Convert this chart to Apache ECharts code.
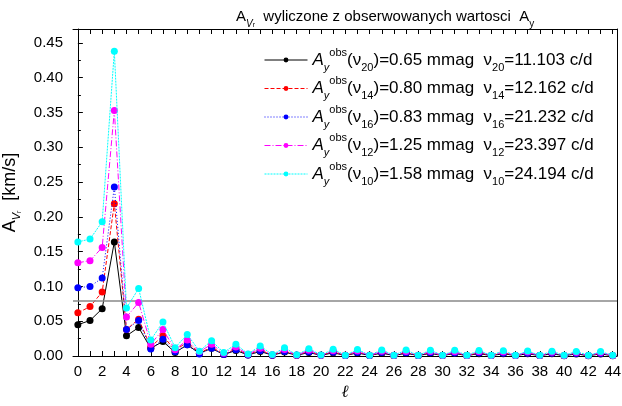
<!DOCTYPE html>
<html>
<head>
<meta charset="utf-8">
<script src="https://cdn.jsdelivr.net/npm/echarts@6/dist/echarts.min.js"></script>
<style>html,body{margin:0;padding:0;background:#fff;}#c{width:622px;height:406px;}</style>
</head>
<body>
<div id="c"></div>
<script>
// degrees l = 0..44
var xTicks = [0,1,2,3,4,5,6,7,8,9,10,11,12,13,14,15,16,17,18,19,20,21,22,23,24,25,26,27,28,29,30,31,32,33,34,35,36,37,38,39,40,41,42,43,44];
var xTickLabels = [0,2,4,6,8,10,12,14,16,18,20,22,24,26,28,30,32,34,36,38,40,42,44];
var yTickLabels = [0,0.05,0.10,0.15,0.20,0.25,0.30,0.35,0.40,0.45];
var thresholdLevel = 0.08;

var modeIdx = ['20','14','16','12','10'];
var ampObs = ['0.65','0.80','0.83','1.25','1.58'];
var freqs = ['11.103','12.162','21.232','23.397','24.194'];

var s_nu20 = [0.045,0.051,0.068,0.164,0.029,0.041,0.011,0.021,0.005,0.016,0.004,0.011,0.002,0.008,0.0015,0.0065,0.0012,0.0056,0.001,0.005,0.0009,0.0046,0.0008,0.0043,0.0008,0.0041,0.0007,0.0039,0.0007,0.0037,0.0007,0.0036,0.0006,0.0034,0.0006,0.0033,0.0006,0.0032,0.0006,0.0031,0.0005,0.003,0.0005,0.0029,0.0005];
var s_nu14 = [0.062,0.071,0.092,0.219,0.038,0.053,0.013,0.029,0.008,0.020,0.004,0.013,0.0025,0.010,0.0018,0.0085,0.0014,0.0072,0.0012,0.0064,0.001,0.0059,0.0009,0.0056,0.0009,0.0053,0.0008,0.0051,0.0008,0.0049,0.0008,0.0048,0.0007,0.0046,0.0007,0.0045,0.0007,0.0043,0.0007,0.0042,0.0006,0.004,0.0006,0.0039,0.0006];
var s_nu16 = [0.098,0.100,0.112,0.243,0.038,0.051,0.010,0.024,0.006,0.016,0.003,0.011,0.002,0.009,0.0015,0.0075,0.0012,0.0065,0.001,0.0058,0.0009,0.0054,0.0008,0.0051,0.0008,0.0049,0.0007,0.0047,0.0007,0.0045,0.0007,0.0044,0.0007,0.0042,0.0006,0.0041,0.0006,0.0039,0.0006,0.0038,0.0006,0.0036,0.0006,0.0035,0.0006];
var s_nu12 = [0.134,0.137,0.156,0.353,0.056,0.077,0.017,0.038,0.009,0.023,0.006,0.017,0.004,0.013,0.0025,0.011,0.0018,0.0092,0.0014,0.0082,0.0012,0.0075,0.001,0.0071,0.001,0.0068,0.0009,0.0066,0.0009,0.0064,0.0008,0.0062,0.0008,0.006,0.0008,0.0058,0.0008,0.0056,0.0008,0.0054,0.0008,0.0051,0.0008,0.0049,0.0008];
var s_nu10 = [0.164,0.168,0.193,0.438,0.069,0.097,0.023,0.049,0.012,0.031,0.007,0.022,0.005,0.017,0.003,0.0145,0.002,0.012,0.0017,0.0105,0.0015,0.0097,0.0012,0.0092,0.0012,0.0088,0.0011,0.0085,0.0011,0.0083,0.001,0.0081,0.001,0.0078,0.001,0.0075,0.001,0.0072,0.001,0.0069,0.001,0.0066,0.001,0.0063,0.001];

var seriesValues = [s_nu20, s_nu14, s_nu16, s_nu12, s_nu10];
var colors = ['#000000','#ff0000','#0000ff','#ff00ff','#00ffff'];
var lineTypes = ['solid',[4,2],[1,2],[6,2,1,2],[2,1]];

var FONT = 'Liberation Sans';

function pairs(vals){ return xTicks.map(function(x,i){ return [x, vals[i]]; }); }

var series = seriesValues.map(function(vals, i){
  var s = {
    name: 'nu' + modeIdx[i],
    type: 'line',
    data: pairs(vals),
    symbol: 'circle',
    symbolSize: 7,
    itemStyle: {color: colors[i]},
    lineStyle: {color: colors[i], width: 1, type: lineTypes[i]},
    z: 3 + i
  };
  if (i === 0) {
    s.markLine = {
      silent: true, symbol: 'none', label: {show: false},
      lineStyle: {color: '#888888', width: 1.5, type: 'solid'},
      data: [{yAxis: thresholdLevel}]
    };
  }
  return s;
});

var richBase = {
  b: {fontFamily: FONT, fontSize: 17, color: '#000', lineHeight: 26},
  ai: {fontFamily: FONT, fontSize: 17, fontStyle: 'italic', color: '#000', lineHeight: 26},
  subi: {fontFamily: FONT, fontSize: 11, fontStyle: 'italic', color: '#000', verticalAlign: 'bottom', lineHeight: 10},
  sup: {fontFamily: FONT, fontSize: 11, color: '#000', verticalAlign: 'top', lineHeight: 12},
  sub: {fontFamily: FONT, fontSize: 11, color: '#000', verticalAlign: 'bottom', lineHeight: 12}
};

var option = {
  animation: false,
  backgroundColor: '#ffffff',
  title: {
    text: '{a|A}{s|V}{ss|r}{t|  wyliczone z obserwowanych wartosci  A}{s2|y}',
    left: 231, top: 0,
    textStyle: {
      fontWeight: 'normal',
      rich: {
        a: {fontFamily: FONT, fontSize: 15, fontWeight: 'normal', color: '#000', lineHeight: 24},
        t: {fontFamily: FONT, fontSize: 15, fontWeight: 'normal', color: '#000', lineHeight: 24},
        s: {fontFamily: FONT, fontSize: 10, fontWeight: 'normal', color: '#000', verticalAlign: 'bottom', lineHeight: 10, fontStyle: 'italic'},
        ss: {fontFamily: FONT, fontSize: 7, fontWeight: 'normal', color: '#000', verticalAlign: 'bottom', lineHeight: 4},
        s2: {fontFamily: FONT, fontSize: 10, fontWeight: 'normal', color: '#000', verticalAlign: 'bottom', lineHeight: 8}
      }
    }
  },
  legend: {
    orient: 'vertical',
    left: 259, top: 42,
    itemWidth: 43, itemHeight: 6,
    itemGap: 2.5,
    lineStyle: {width: 1},
    data: series.map(function(s){ return s.name; }),
    formatter: function(name){
      var i = series.findIndex(function(s){ return s.name === name; });
      return '{ai|A}{subi|y}{sup|obs}{b|(ν}{sub|' + modeIdx[i] + '}{b|)=' + ampObs[i] + ' mmag  ν}{sub|' + modeIdx[i] + '}{b|=' + freqs[i] + ' c/d}';
    },
    textStyle: {rich: richBase}
  },
  grid: {left: 73, right: 5, top: 29, bottom: 50, containLabel: false, outerBoundsMode: 'none'},
  xAxis: [{
    type: 'value', min: -0.4, max: 44.35,
    name: 'ℓ', nameLocation: 'middle', nameGap: 27,
    nameTextStyle: {fontFamily: 'DejaVu Serif', fontStyle: 'italic', fontSize: 17, color: '#000'},
    axisLine: {show: true, lineStyle: {color: '#000', width: 1}},
    axisTick: {show: true, inside: true, length: 5, customValues: xTicks, lineStyle: {color: '#000'}},
    axisLabel: {customValues: xTickLabels, fontFamily: FONT, fontSize: 15, color: '#000', margin: 8},
    splitLine: {show: false}
  }, {
    type: 'value', min: -0.4, max: 44.35, position: 'top',
    axisLine: {show: true, onZero: false, lineStyle: {color: '#000', width: 1}},
    axisTick: {show: true, inside: true, length: 5, customValues: xTicks, lineStyle: {color: '#000'}},
    axisLabel: {show: false},
    splitLine: {show: false}
  }],
  yAxis: [{
    type: 'value', min: 0, max: 0.47, interval: 0.05,
    name: '{a|A}{s|V}{ss|r}{b|  [km/s]}', nameLocation: 'middle', nameGap: 46, nameRotate: 90,
    nameTextStyle: {
      rich: {
        a: {fontFamily: FONT, fontSize: 18, color: '#000', lineHeight: 26},
        b: {fontFamily: FONT, fontSize: 18, color: '#000', lineHeight: 26},
        s: {fontFamily: FONT, fontSize: 11, fontStyle: 'italic', color: '#000', verticalAlign: 'bottom', lineHeight: 10},
        ss: {fontFamily: FONT, fontSize: 7, color: '#000', verticalAlign: 'bottom', lineHeight: 4}
      }
    },
    axisLine: {show: true, lineStyle: {color: '#000', width: 1}},
    axisTick: {show: true, inside: true, length: 5, customValues: yTickLabels, lineStyle: {color: '#000'}},
    minorTick: {show: true, splitNumber: 2, length: 3, lineStyle: {color: '#000'}},
    axisLabel: {customValues: yTickLabels, fontFamily: FONT, fontSize: 15, color: '#000', margin: 10,
      formatter: function(v){ return v.toFixed(2); }},
    splitLine: {show: false}
  }, {
    type: 'value', min: 0, max: 0.47, position: 'right',
    axisLine: {show: true, onZero: false, lineStyle: {color: '#000', width: 1}},
    axisTick: {show: false}, axisLabel: {show: false}, splitLine: {show: false}
  }],
  series: series
};

var chart = echarts.init(document.getElementById('c'), null, {renderer: 'canvas'});
chart.setOption(option);
</script>
</body>
</html>
